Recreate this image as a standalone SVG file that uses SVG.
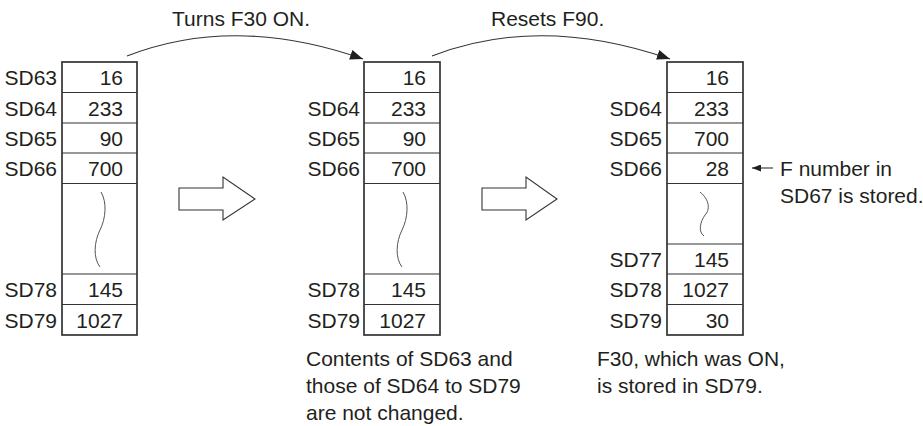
<svg xmlns="http://www.w3.org/2000/svg" width="923" height="426" viewBox="0 0 923 426">
<style>
text{font-family:"Liberation Sans",Arial,sans-serif;font-size:21px;fill:#231f20}
.r{text-anchor:end}
.box{fill:#fff;stroke:#333;stroke-width:1.7}
.div{stroke:#333;stroke-width:1.2;fill:none}
.sq{stroke:#555;stroke-width:1;fill:none}
.conn{stroke:#333;stroke-width:1.1;fill:none}
.big{fill:#fff;stroke:#333;stroke-width:1.1}
</style>
<defs>
<marker id="ah" markerUnits="userSpaceOnUse" markerWidth="14" markerHeight="10" refX="13" refY="5" orient="auto">
<path d="M0,0 L13,5 L0,10 z" fill="#231f20"/>
</marker>
<marker id="ahs" markerUnits="userSpaceOnUse" markerWidth="10" markerHeight="7" refX="9" refY="3.5" orient="auto">
<path d="M0,0 L9,3.5 L0,7 z" fill="#231f20"/>
</marker>
</defs>
<rect width="923" height="426" fill="#fff"/>

<g id="table1">
<rect class="box" x="62" y="62" width="75" height="273"/>
<path class="div" d="M62,92.5H137M62,123H137M62,153H137M62,183.5H137M62,274H137M62,304.5H137"/>
<path class="sq" d="M101,192 C107,202 106,218 100,230 C94,242 93,258 100,267"/>
<text class="r" x="57" y="85">SD63</text><text class="r" x="123" y="85">16</text>
<text class="r" x="57" y="115.5">SD64</text><text class="r" x="123" y="115.5">233</text>
<text class="r" x="57" y="145.5">SD65</text><text class="r" x="123" y="145.5">90</text>
<text class="r" x="57" y="176">SD66</text><text class="r" x="123" y="176">700</text>
<text class="r" x="57" y="297">SD78</text><text class="r" x="123" y="297">145</text>
<text class="r" x="57" y="327.5">SD79</text><text class="r" x="123" y="327.5">1027</text>
</g>

<g id="table2">
<rect class="box" x="364" y="62" width="76" height="273"/>
<path class="div" d="M364,92.5H440M364,123H440M364,153H440M364,183.5H440M364,274H440M364,304.5H440"/>
<path class="sq" d="M403,192 C409,202 408,218 402,230 C396,242 395,258 402,267"/>
<text class="r" x="426" y="85">16</text>
<text class="r" x="360" y="115.5">SD64</text><text class="r" x="426" y="115.5">233</text>
<text class="r" x="360" y="145.5">SD65</text><text class="r" x="426" y="145.5">90</text>
<text class="r" x="360" y="176">SD66</text><text class="r" x="426" y="176">700</text>
<text class="r" x="360" y="297">SD78</text><text class="r" x="426" y="297">145</text>
<text class="r" x="360" y="327.5">SD79</text><text class="r" x="426" y="327.5">1027</text>
</g>

<g id="table3">
<rect class="box" x="667" y="62" width="76" height="273"/>
<path class="div" d="M667,92.5H743M667,123H743M667,153H743M667,183.5H743M667,244H743M667,274H743M667,304.5H743"/>
<path class="sq" d="M700,192 C710,200 710,210 705,215 C700,222 698,232 704,236"/>
<text class="r" x="729" y="85">16</text>
<text class="r" x="662" y="115.5">SD64</text><text class="r" x="729" y="115.5">233</text>
<text class="r" x="662" y="145.5">SD65</text><text class="r" x="729" y="145.5">700</text>
<text class="r" x="662" y="176">SD66</text><text class="r" x="729" y="176">28</text>
<text class="r" x="662" y="266.5">SD77</text><text class="r" x="729" y="266.5">145</text>
<text class="r" x="662" y="297">SD78</text><text class="r" x="729" y="297">1027</text>
<text class="r" x="662" y="327.5">SD79</text><text class="r" x="729" y="327.5">30</text>
</g>

<g id="step-arrow1"><polygon class="big" points="179,188 223,188 223,177 255,199 223,220 223,210 179,210"/></g>
<g id="step-arrow2"><polygon class="big" points="482,188 526,188 526,177 557,199 526,220 526,210 482,210"/></g>

<g id="connectors">
<path class="conn" d="M127,56 Q235,14 363,59" marker-end="url(#ah)"/>
<path class="conn" d="M432,56 Q540,14 670,59" marker-end="url(#ah)"/>
<path class="conn" d="M773,168 H752" marker-end="url(#ahs)"/>
</g>

<g id="labels">
<text x="172" y="26">Turns F30 ON.</text>
<text x="491" y="26">Resets F90.</text>
<text x="780" y="176">F number in</text>
<text x="780" y="203">SD67 is stored.</text>
<text x="306" y="366">Contents of SD63 and</text>
<text x="306" y="393">those of SD64 to SD79</text>
<text x="306" y="420">are not changed.</text>
<text x="597" y="366">F30, which was ON,</text>
<text x="597" y="393">is stored in SD79.</text>
</g>
</svg>
